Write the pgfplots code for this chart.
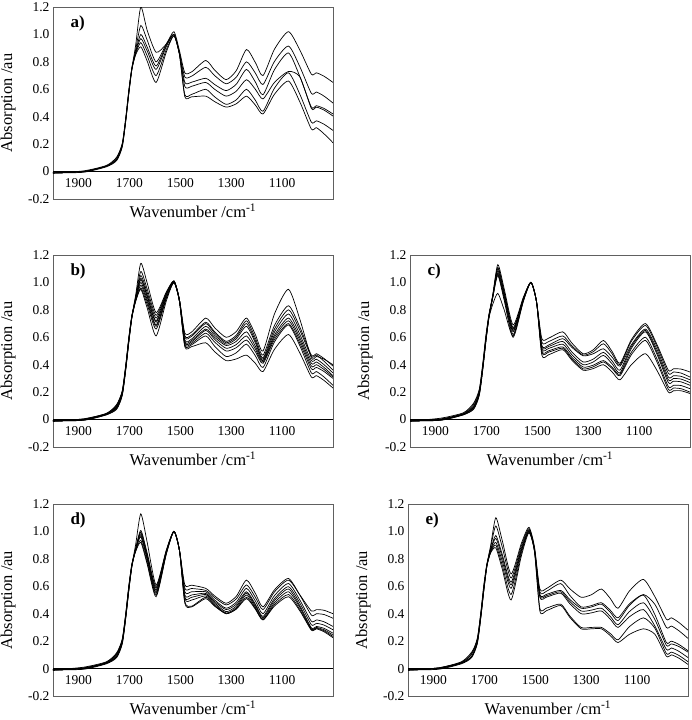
\documentclass[border=0pt]{standalone}
\usepackage{fontspec}
\setmainfont{Liberation Serif}
\usepackage{pgfplots}
\usepackage{pgfplotstable}
\pgfplotsset{compat=1.18}

\pgfplotstableread{
x c1 c2 c3 c4 c5 c6
2000 -0.01 -0.01 -0.01 -0.01 -0.01 -0.01
1880 0.0 0.0 0.0 0.005 -0.005 0.0
1790 0.04 0.04 0.04 0.045 0.035 0.04
1750 0.10 0.09 0.085 0.105 0.08 0.09
1728 0.20 0.19 0.185 0.205 0.18 0.19
1714 0.39 0.38 0.375 0.395 0.37 0.38
1702 0.59 0.58 0.575 0.595 0.57 0.58
1690 0.755 0.75 0.748 0.758 0.745 0.75
1675 0.925 0.891 0.875 0.868 0.86 0.852
1655 1.20 1.065 1.00 0.97 0.94 0.91
1630 1.03 0.959 0.908 0.88 0.844 0.806
1595 0.87 0.80 0.77 0.745 0.70 0.65
1555 0.93 0.93 0.92 0.911 0.889 0.871
1525 1.02 1.00 1.00 1.00 0.99 0.99
1503 0.88 0.86 0.86 0.86 0.85 0.85
1482 0.72 0.69 0.65 0.62 0.56 0.545
1455 0.727 0.696 0.652 0.622 0.563 0.545
1400 0.81 0.76 0.68 0.65 0.60 0.55
1365 0.74 0.70 0.635 0.60 0.545 0.51
1320 0.67 0.64 0.59 0.55 0.49 0.47
1280 0.736 0.688 0.637 0.586 0.523 0.494
1240 0.89 0.80 0.745 0.67 0.60 0.55
1205 0.795 0.718 0.653 0.60 0.52 0.485
1175 0.70 0.635 0.56 0.53 0.44 0.42
1130 0.892 0.803 0.743 0.65 0.608 0.564
1075 1.02 0.915 0.865 0.73 0.72 0.66
1030 0.885 0.764 0.692 0.69 0.563 0.507
985 0.71 0.57 0.47 0.46 0.36 0.31
965 0.72 0.58 0.48 0.47 0.37 0.32
935 0.695 0.55 0.46 0.448 0.345 0.275
900 0.65 0.50 0.42 0.405 0.30 0.21
}\tabA

\pgfplotstableread{
x c1 c2 c3 c4 c5 c6 c7 c8 c9
2000 -0.01 -0.01 -0.01 -0.01 -0.01 -0.01 -0.01 -0.01 -0.01
1880 0.0 0.0 0.0 0.0 0.005 -0.005 0.0 0.005 -0.005
1790 0.04 0.04 0.04 0.04 0.045 0.035 0.04 0.045 0.035
1750 0.10 0.09 0.095 0.085 0.105 0.08 0.09 0.11 0.075
1728 0.20 0.19 0.195 0.185 0.205 0.18 0.19 0.21 0.175
1714 0.39 0.38 0.385 0.375 0.395 0.37 0.38 0.40 0.365
1702 0.59 0.58 0.585 0.575 0.595 0.57 0.58 0.60 0.565
1690 0.755 0.75 0.753 0.748 0.758 0.745 0.75 0.76 0.743
1675 0.91 0.895 0.888 0.883 0.88 0.875 0.87 0.865 0.863
1655 1.14 1.08 1.05 1.03 1.02 1.00 0.98 0.96 0.95
1630 0.996 0.952 0.926 0.906 0.896 0.876 0.86 0.84 0.814
1595 0.78 0.76 0.74 0.72 0.71 0.69 0.68 0.66 0.61
1555 0.93 0.923 0.916 0.909 0.905 0.89 0.888 0.881 0.864
1525 1.01 1.01 1.01 1.01 1.01 1.00 1.00 1.00 1.00
1503 0.87 0.87 0.87 0.87 0.87 0.86 0.86 0.86 0.86
1482 0.63 0.61 0.60 0.58 0.57 0.56 0.55 0.54 0.53
1455 0.639 0.618 0.608 0.588 0.577 0.567 0.556 0.546 0.532
1400 0.74 0.71 0.70 0.68 0.66 0.65 0.63 0.61 0.56
1365 0.67 0.64 0.63 0.615 0.60 0.585 0.565 0.535 0.495
1320 0.60 0.57 0.56 0.55 0.54 0.52 0.50 0.46 0.43
1280 0.642 0.615 0.602 0.589 0.57 0.547 0.524 0.487 0.442
1240 0.74 0.72 0.70 0.68 0.64 0.61 0.58 0.55 0.47
1205 0.62 0.595 0.575 0.56 0.535 0.515 0.495 0.465 0.41
1175 0.50 0.47 0.45 0.44 0.43 0.42 0.41 0.38 0.35
1130 0.77 0.686 0.66 0.638 0.616 0.60 0.584 0.566 0.512
1075 0.95 0.83 0.80 0.77 0.74 0.72 0.70 0.69 0.62
1030 0.73 0.673 0.65 0.62 0.596 0.576 0.556 0.537 0.485
985 0.45 0.47 0.46 0.43 0.41 0.39 0.37 0.34 0.31
965 0.46 0.48 0.47 0.44 0.42 0.40 0.38 0.35 0.32
935 0.44 0.445 0.425 0.40 0.38 0.365 0.35 0.31 0.285
900 0.40 0.39 0.36 0.34 0.32 0.31 0.30 0.25 0.23
}\tabB

\pgfplotstableread{
x c1 c2 c3 c4 c5 c6 c7 c8
2000 -0.01 -0.01 -0.01 -0.01 -0.01 -0.01 -0.01 -0.01
1880 0.0 0.0 0.005 -0.005 0.01 0.0 -0.005 0.0
1790 0.04 0.04 0.045 0.035 0.05 0.04 0.035 0.04
1750 0.10 0.09 0.11 0.08 0.12 0.09 0.075 0.09
1728 0.20 0.19 0.21 0.18 0.22 0.19 0.175 0.19
1714 0.39 0.38 0.40 0.37 0.41 0.38 0.365 0.38
1702 0.59 0.58 0.60 0.57 0.61 0.58 0.565 0.58
1690 0.755 0.75 0.76 0.745 0.765 0.75 0.743 0.74
1675 0.91 0.90 0.90 0.896 0.893 0.89 0.888 0.84
1655 1.13 1.11 1.10 1.085 1.07 1.06 1.05 0.92
1630 0.954 0.934 0.924 0.911 0.898 0.884 0.87 0.80
1595 0.69 0.67 0.66 0.65 0.64 0.62 0.60 0.61
1555 0.89 0.885 0.881 0.878 0.874 0.867 0.86 0.864
1525 1.00 1.00 1.00 1.00 1.00 1.00 1.00 1.00
1503 0.86 0.86 0.86 0.86 0.86 0.86 0.86 0.86
1482 0.59 0.565 0.54 0.53 0.516 0.50 0.49 0.47
1455 0.594 0.569 0.544 0.533 0.519 0.502 0.492 0.473
1400 0.64 0.61 0.59 0.57 0.55 0.53 0.52 0.51
1365 0.56 0.54 0.528 0.495 0.475 0.457 0.445 0.435
1320 0.48 0.47 0.465 0.42 0.40 0.383 0.37 0.36
1280 0.509 0.495 0.48 0.441 0.42 0.397 0.385 0.372
1240 0.577 0.553 0.516 0.49 0.468 0.43 0.42 0.40
1205 0.494 0.477 0.453 0.425 0.404 0.38 0.37 0.345
1175 0.41 0.40 0.39 0.36 0.34 0.33 0.32 0.29
1130 0.584 0.572 0.546 0.534 0.52 0.492 0.474 0.401
1075 0.70 0.686 0.66 0.65 0.64 0.60 0.577 0.48
1030 0.548 0.534 0.513 0.493 0.478 0.443 0.421 0.359
985 0.36 0.337 0.31 0.29 0.27 0.24 0.22 0.20
965 0.37 0.347 0.32 0.30 0.28 0.25 0.23 0.21
935 0.368 0.339 0.315 0.295 0.275 0.248 0.225 0.21
900 0.347 0.31 0.29 0.27 0.25 0.225 0.20 0.19
}\tabC

\pgfplotstableread{
x c1 c2 c3 c4 c5 c6 c7 c8
2000 -0.01 -0.01 -0.01 -0.01 -0.01 -0.01 -0.01 -0.01
1880 0.0 0.0 0.005 -0.005 0.005 0.0 0.0 0.01
1790 0.04 0.04 0.045 0.035 0.045 0.04 0.04 0.05
1750 0.10 0.09 0.105 0.08 0.11 0.09 0.085 0.115
1728 0.20 0.19 0.205 0.18 0.21 0.19 0.185 0.215
1714 0.39 0.38 0.395 0.37 0.40 0.38 0.375 0.405
1702 0.59 0.58 0.595 0.57 0.60 0.58 0.575 0.605
1690 0.755 0.75 0.758 0.745 0.76 0.75 0.748 0.763
1675 0.907 0.877 0.874 0.871 0.868 0.865 0.859 0.855
1655 1.128 1.007 0.995 0.983 0.97 0.96 0.935 0.92
1630 0.921 0.843 0.831 0.819 0.806 0.795 0.775 0.762
1595 0.61 0.597 0.585 0.572 0.56 0.548 0.536 0.524
1555 0.864 0.858 0.855 0.85 0.846 0.842 0.836 0.834
1525 1.00 1.00 1.00 1.00 1.00 1.00 1.00 1.00
1503 0.86 0.86 0.86 0.86 0.86 0.86 0.86 0.86
1482 0.61 0.585 0.56 0.536 0.52 0.51 0.488 0.476
1455 0.608 0.584 0.56 0.537 0.52 0.50 0.455 0.45
1400 0.585 0.57 0.56 0.548 0.54 0.53 0.52 0.51
1365 0.53 0.517 0.50 0.489 0.478 0.468 0.46 0.455
1320 0.476 0.464 0.44 0.43 0.415 0.405 0.40 0.40
1280 0.527 0.508 0.484 0.469 0.455 0.444 0.436 0.433
1240 0.645 0.61 0.585 0.56 0.55 0.536 0.52 0.51
1205 0.548 0.52 0.493 0.47 0.46 0.448 0.438 0.433
1175 0.45 0.43 0.40 0.38 0.37 0.36 0.355 0.355
1130 0.574 0.559 0.532 0.51 0.496 0.48 0.466 0.456
1075 0.657 0.645 0.62 0.597 0.58 0.56 0.54 0.524
1030 0.537 0.535 0.499 0.477 0.457 0.446 0.43 0.42
985 0.42 0.39 0.345 0.32 0.297 0.29 0.285 0.28
965 0.43 0.40 0.355 0.33 0.307 0.30 0.295 0.29
935 0.425 0.394 0.341 0.317 0.293 0.283 0.275 0.268
900 0.40 0.367 0.307 0.283 0.258 0.245 0.234 0.225
}\tabD

\pgfplotstableread{
x c1 c2 c3 c4 c5 c6 c7
2000 -0.01 -0.01 -0.01 -0.01 -0.01 -0.01 -0.01
1880 0.005 0.0 0.005 -0.005 0.0 0.005 0.0
1790 0.045 0.04 0.05 0.035 0.04 0.045 0.04
1750 0.11 0.09 0.12 0.08 0.09 0.105 0.085
1728 0.22 0.19 0.21 0.18 0.19 0.205 0.185
1714 0.40 0.38 0.41 0.37 0.38 0.395 0.375
1702 0.60 0.58 0.61 0.57 0.58 0.595 0.575
1690 0.76 0.75 0.765 0.745 0.75 0.758 0.748
1675 0.90 0.885 0.868 0.863 0.855 0.85 0.845
1655 1.10 1.04 0.97 0.95 0.92 0.90 0.88
1630 0.936 0.888 0.834 0.814 0.786 0.756 0.728
1595 0.69 0.66 0.63 0.61 0.585 0.54 0.50
1555 0.911 0.894 0.877 0.864 0.855 0.839 0.819
1525 1.03 1.02 1.01 1.00 1.00 1.00 0.99
1503 0.886 0.877 0.869 0.86 0.86 0.86 0.85
1482 0.58 0.56 0.54 0.53 0.52 0.44 0.42
1455 0.585 0.565 0.542 0.532 0.522 0.442 0.423
1400 0.645 0.62 0.57 0.56 0.55 0.47 0.46
1365 0.583 0.535 0.505 0.49 0.475 0.385 0.375
1320 0.52 0.45 0.44 0.42 0.40 0.30 0.29
1280 0.538 0.459 0.449 0.426 0.406 0.30 0.29
1240 0.58 0.48 0.47 0.44 0.42 0.30 0.29
1205 0.51 0.425 0.41 0.38 0.36 0.255 0.24
1175 0.44 0.37 0.35 0.32 0.30 0.21 0.19
1130 0.566 0.472 0.461 0.416 0.378 0.306 0.25
1075 0.65 0.54 0.535 0.48 0.43 0.37 0.29
1030 0.524 0.468 0.393 0.357 0.31 0.294 0.25
985 0.36 0.30 0.19 0.17 0.14 0.11 0.09
965 0.37 0.31 0.20 0.18 0.15 0.12 0.10
935 0.335 0.275 0.175 0.16 0.125 0.095 0.075
900 0.28 0.22 0.13 0.12 0.08 0.05 0.03
}\tabE

\pgfplotsset{
  spec/.style={
    scale only axis, width=280pt, height=192pt,
    x dir=reverse, xmin=900, xmax=2000, ymin=-0.2, ymax=1.2,
    xtick={1100,1300,1500,1700,1900},
    xticklabels={1100,1300,1500,1700,1900},
    ytick={-0.2,0,0.2,0.4,0.6,0.8,1.0,1.2},
    yticklabels={-0.2,0,0.2,0.4,0.6,0.8,1.0,1.2},
    tick style={draw=none},
    xticklabel style={yshift=24pt, font=\fontsize{13.5}{14}\selectfont},
    yticklabel style={font=\fontsize{13.5}{14}\selectfont},
    axis line style={gray!75!black, line width=0.6pt},
    extra y ticks={0}, extra y tick labels={},
    extra y tick style={grid=major, major grid style={black, line width=0.6pt}},
    xlabel={Wavenumber /cm\textsuperscript{-1}},
    ylabel={Absorption /au},
    xlabel style={font=\fontsize{16.5}{18}\selectfont, at={(axis description cs:0.5,0)}, anchor=north, yshift=-1pt},
    ylabel style={font=\fontsize{16.5}{18}\selectfont, at={(axis description cs:-0.16,0.5)}, anchor=center},
    clip=true,
  },
  spl/.style={black, line width=0.7pt, smooth, tension=0.4, mark=none},
}

\newcommand{\paneltag}[1]{\node[anchor=west, font=\bfseries\fontsize{17}{18}\selectfont] at (axis description cs:0.05,0.915) {#1};}

\begin{document}
\begin{tikzpicture}
\path[use as bounding box] (0,0) rectangle (691pt,-720pt);

\begin{axis}[spec, at={(53pt,-7pt)}, anchor=north west]
\pgfplotsinvokeforeach{1,2,3,4,5,6}{\addplot[spl] table[x index=0, y index=#1] {\tabA};}
\paneltag{a)}
\end{axis}

\begin{axis}[spec, at={(53pt,-255pt)}, anchor=north west]
\pgfplotsinvokeforeach{1,2,3,4,5,6,7,8,9}{\addplot[spl] table[x index=0, y index=#1] {\tabB};}
\paneltag{b)}
\end{axis}

\begin{axis}[spec, at={(410pt,-255pt)}, anchor=north west]
\pgfplotsinvokeforeach{1,2,3,4,5,6,7,8}{\addplot[spl] table[x index=0, y index=#1] {\tabC};}
\paneltag{c)}
\end{axis}

\begin{axis}[spec, at={(53pt,-504pt)}, anchor=north west]
\pgfplotsinvokeforeach{1,2,3,4,5,6,7,8}{\addplot[spl] table[x index=0, y index=#1] {\tabD};}
\paneltag{d)}
\end{axis}

\begin{axis}[spec, at={(408pt,-504pt)}, anchor=north west]
\pgfplotsinvokeforeach{1,2,3,4,5,6,7}{\addplot[spl] table[x index=0, y index=#1] {\tabE};}
\paneltag{e)}
\end{axis}
\end{tikzpicture}
\end{document}
